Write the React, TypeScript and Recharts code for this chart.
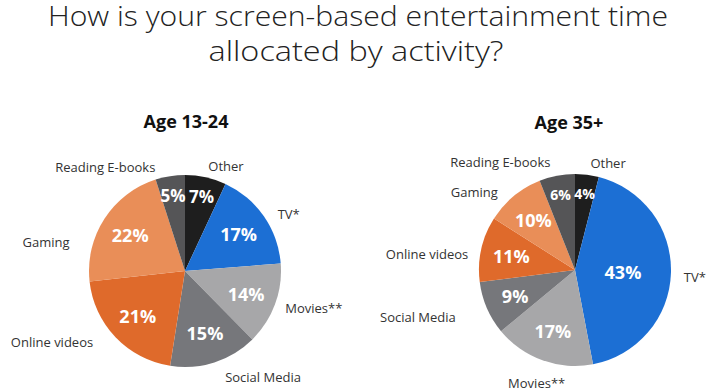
import { Cell, Pie, PieChart } from "recharts";

const activities = ["Other", "TV*", "Movies**", "Social Media", "Online videos", "Gaming", "Reading E-books"];
const youngShares = [7, 17, 14, 15, 21, 22, 5];
const olderShares = [4, 43, 17, 9, 11, 10, 6];
const sliceColors = ["#1e1e1e", "#1c6fd4", "#a7a7a9", "#76777b", "#df6a2b", "#e98e58", "#555557"];

// label nudges so the outer names sit where the original put them
const youngLabelShift = [0, -3, 0, 3, -6, 19, 7];
const youngLabelGap = [12, 13, 11, 17, 20, 23, 12];
const youngAnchor = ["start", "start", "start", "start", "end", "end", "end"];
const olderLabelShift = [-1, -2, 1, -2, 4, 5, 2];
const olderLabelGap = [12, 13, 23, 32, 12, 14, 15];
const olderAnchor = ["start", "start", "middle", "end", "end", "end", "end"];

const RAD = Math.PI / 180;
const FONT = "'Open Sans', sans-serif";

const youngData = activities.map((name, i) => ({ name, value: youngShares[i] }));
const olderData = activities.map((name, i) => ({ name, value: olderShares[i] }));

function makeLabel(shift: number[], gap: number[], anchor: string[], smallSize: number) {
  return (props: any) => {
    const { cx, cy, midAngle, outerRadius, index, value, name } = props;
    const inner = value > 30 ? 0.5 : value < 8 ? 0.8 : 0.68;
    const px = cx + outerRadius * inner * Math.cos(-midAngle * RAD);
    const py = cy + outerRadius * inner * Math.sin(-midAngle * RAD);
    const a = (midAngle + shift[index]) * RAD;
    const r = outerRadius + gap[index];
    const lx = cx + r * Math.cos(-a);
    const ly = cy + r * Math.sin(-a);
    return (
      <g>
        <text
          x={px}
          y={py}
          textAnchor="middle"
          dominantBaseline="central"
          fill="#fff"
          fontFamily={FONT}
          fontWeight={700}
          fontSize={value < 8 ? smallSize : 18}
        >
          {value}%
        </text>
        <text
          x={lx}
          y={ly}
          textAnchor={anchor[index] as any}
          dominantBaseline="central"
          fill="#333"
          fontFamily={FONT}
          fontSize={13}
        >
          {name}
        </text>
      </g>
    );
  };
}

export default function App() {
  return (
    <div style={{ position: "absolute", left: 0, top: 0, width: 713, height: 392, background: "#fff" }}>
      <PieChart width={713} height={392} margin={{ top: 0, right: 0, bottom: 0, left: 0 }}>
        <Pie
          data={youngData}
          dataKey="value"
          nameKey="name"
          cx={185}
          cy={271}
          outerRadius={96}
          startAngle={90}
          endAngle={-270}
          stroke="none"
          labelLine={false}
          label={makeLabel(youngLabelShift, youngLabelGap, youngAnchor, 17)}
          isAnimationActive={false}
        >
          {youngData.map((d, i) => (
            <Cell key={d.name} fill={sliceColors[i]} />
          ))}
        </Pie>
        <Pie
          data={olderData}
          dataKey="value"
          nameKey="name"
          cx={575}
          cy={270}
          outerRadius={96}
          startAngle={90}
          endAngle={-270}
          stroke="none"
          labelLine={false}
          label={makeLabel(olderLabelShift, olderLabelGap, olderAnchor, 14)}
          isAnimationActive={false}
        >
          {olderData.map((d, i) => (
            <Cell key={d.name} fill={sliceColors[i]} />
          ))}
        </Pie>
      </PieChart>
      <svg width={713} height={392} style={{ position: "absolute", left: 0, top: 0, pointerEvents: "none" }}>
        <text x={358} y={26} textAnchor="middle" fontFamily={FONT} fontWeight={300} fontSize={28} fill="#222" textLength={620} lengthAdjust="spacingAndGlyphs">
          How is your screen-based entertainment time
        </text>
        <text x={356} y={61} textAnchor="middle" fontFamily={FONT} fontWeight={300} fontSize={28} fill="#222" textLength={295} lengthAdjust="spacingAndGlyphs">
          allocated by activity?
        </text>
        <text x={186} y={128} textAnchor="middle" fontFamily={FONT} fontWeight={700} fontSize={18} fill="#111">
          Age 13-24
        </text>
        <text x={569} y={129} textAnchor="middle" fontFamily={FONT} fontWeight={700} fontSize={18} fill="#111">
          Age 35+
        </text>
      </svg>
    </div>
  );
}
